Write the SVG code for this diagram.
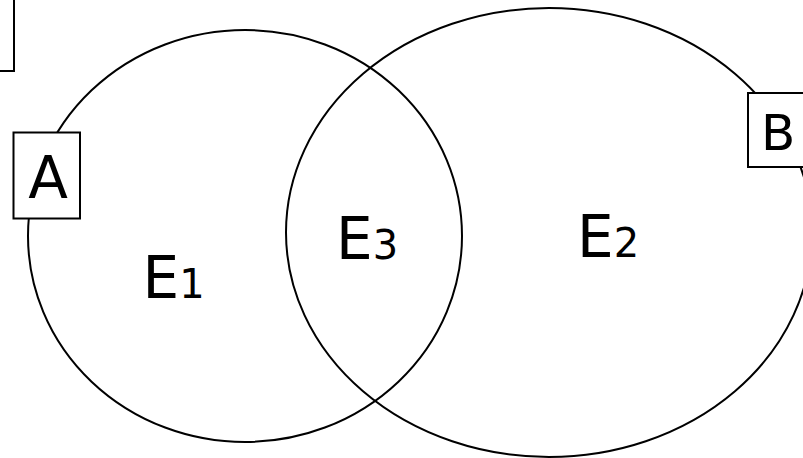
<svg xmlns="http://www.w3.org/2000/svg" width="803" height="458" viewBox="0 0 803 458">
<style>
.ln{fill:none;stroke:#000;stroke-width:2}
.bx{fill:#fff;stroke:#000;stroke-width:2}
.t{font-family:"DejaVu Sans",Verdana,sans-serif;fill:#000}
.e{font-size:58px}
.s{font-size:40px}
</style>
<rect width="803" height="458" fill="#fff"/>
<g id="connectors"></g>
<g id="E1set"><ellipse class="ln" cx="245" cy="236" rx="217" ry="206"/></g>
<g id="E2set"><ellipse class="ln" cx="549" cy="232.5" rx="263" ry="224.5"/></g>
<g id="topbox"><rect class="bx" x="-100" y="-100" width="114" height="171"/></g>
<g id="A"><rect class="bx" x="13.5" y="132.5" width="66.5" height="86"/><text class="t" x="48" y="198" font-size="58" text-anchor="middle">A</text></g>
<g id="B"><rect class="bx" x="748" y="93" width="100" height="74"/><text class="t" x="761" y="150" font-size="50">B</text></g>
<g id="E1"><text class="t e" x="142.5" y="298">E<tspan class="s">1</tspan></text></g>
<g id="E3"><text class="t e" x="336" y="259">E<tspan class="s">3</tspan></text></g>
<g id="E2"><text class="t e" x="577" y="257">E<tspan class="s">2</tspan></text></g>
</svg>
